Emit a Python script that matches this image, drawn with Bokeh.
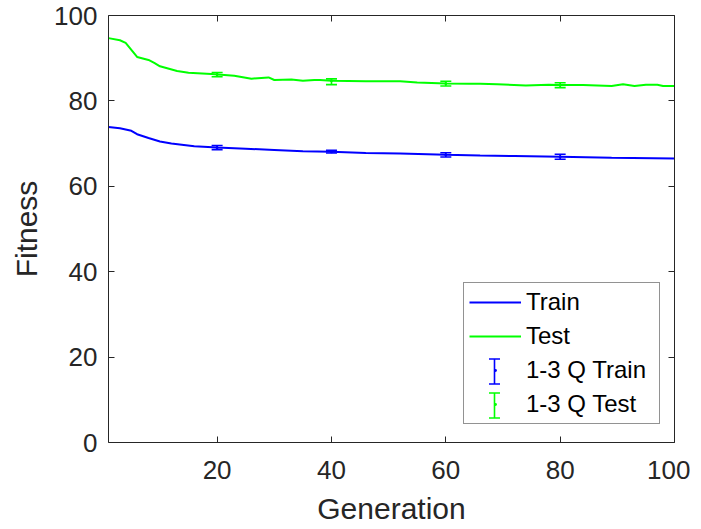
import numpy as np
from bokeh.plotting import figure
from bokeh.models import (Range1d, LinearAxis, FixedTicker, Legend, LegendItem,
                          ColumnDataSource, Whisker, TeeHead, CustomLabelingPolicy)
from bokeh.embed import file_html
from bokeh.resources import INLINE

# ---- data ----
train_gen = [1, 3, 5, 6, 8, 10, 12, 16, 20, 25, 30, 35, 40, 46, 52, 60, 66, 72, 80, 89, 100]
train_fit = [73.9, 73.6, 73.0, 72.2, 71.3, 70.5, 70.0, 69.4, 69.1, 68.8, 68.5, 68.2, 68.1,
             67.8, 67.7, 67.4, 67.2, 67.1, 66.9, 66.7, 66.5]

test_gen = [1, 3, 4, 6, 8, 9, 10, 13, 15, 19, 23, 26, 29, 30, 33, 35, 37, 38, 40, 46, 52,
            55, 60, 64, 66, 69, 74, 78, 80, 84, 89, 91, 93, 95, 97, 98, 100]
test_fit = [94.7, 94.2, 93.6, 90.3, 89.6, 88.9, 88.1, 87.0, 86.6, 86.3, 85.9, 85.2, 85.5,
            84.9, 85.0, 84.7, 84.9, 84.9, 84.7, 84.6, 84.6, 84.3, 84.1, 84.0, 84.0, 83.9,
            83.6, 83.8, 83.7, 83.7, 83.5, 83.9, 83.5, 83.8, 83.8, 83.5, 83.5]

q_gen = [20, 40, 60, 80]
train_mid = [69.1, 68.1, 67.4, 66.9]
train_q1 = [68.6, 67.8, 66.85, 66.35]
train_q3 = [69.55, 68.45, 67.85, 67.5]
test_mid = [86.2, 84.7, 84.1, 83.7]
test_q1 = [85.65, 83.8, 83.5, 83.1]
test_q3 = [86.65, 85.15, 84.6, 84.25]

x_ticks = [20, 40, 60, 80, 100]
y_ticks = [0, 20, 40, 60, 80, 100]
x_label = "Generation"
y_label = "Fitness"
legend_labels = ["Train", "Test", "1-3 Q Train", "1-3 Q Test"]

BLUE = "#0000ff"
GREEN = "#00ff00"
AX = "#262626"
FONT = "Liberation Sans"

p = figure(width=690, height=527, output_backend="svg", toolbar_location=None,
           x_range=Range1d(1, 100), y_range=Range1d(0, 100),
           min_border_left=108, min_border_right=16, min_border_top=15, min_border_bottom=85,
           x_axis_label=x_label, y_axis_label=y_label)
p.xgrid.visible = False
p.ygrid.visible = False
p.outline_line_color = None
p.background_fill_color = "white"
p.border_fill_color = "white"

def style_axis(ax, ticks, labels=True):
    ax.ticker = FixedTicker(ticks=ticks)
    ax.axis_line_color = AX
    ax.axis_line_width = 1
    ax.major_tick_line_color = AX
    ax.major_tick_in = 6
    ax.major_tick_out = 0
    ax.minor_tick_line_color = None
    ax.major_label_text_font = FONT
    ax.major_label_text_color = AX
    ax.axis_label_text_font = FONT
    ax.axis_label_text_color = AX
    ax.axis_label_text_font_style = "normal"
    if labels:
        ax.major_label_text_font_size = "26px"
        ax.axis_label_text_font_size = "30px"
    else:
        ax.major_label_text_font_size = "0px"
        ax.major_label_standoff = 0
        ax.major_label_policy = CustomLabelingPolicy(code="return []")

style_axis(p.xaxis[0], x_ticks)
style_axis(p.yaxis[0], y_ticks)
p.xaxis[0].major_label_standoff = 18
p.xaxis[0].axis_label_standoff = 10
p.yaxis[0].major_label_standoff = 11
p.yaxis[0].axis_label_standoff = 8

top_ax = LinearAxis()
style_axis(top_ax, x_ticks, labels=False)
p.add_layout(top_ax, "above")
right_ax = LinearAxis()
style_axis(right_ax, y_ticks, labels=False)
p.add_layout(right_ax, "right")

r_train = p.line(train_gen, train_fit, line_color=BLUE, line_width=2)
r_test = p.line(test_gen, test_fit, line_color=GREEN, line_width=2)

def errorbars(mid, q1, q3, color):
    p.segment(x0=q_gen, y0=q1, x1=q_gen, y1=q3, line_color=color, line_width=1.6)
    p.scatter(x=q_gen, y=q1, marker="dash", size=11, line_color=color, line_width=1.6)
    p.scatter(x=q_gen, y=q3, marker="dash", size=11, line_color=color, line_width=1.6)
    rd = p.scatter(x=q_gen, y=mid, marker="dot", size=12, line_color=color,
                   fill_color=color)
    return rd

rd_train = errorbars(train_mid, train_q1, train_q3, BLUE)
rd_test = errorbars(test_mid, test_q1, test_q3, GREEN)

# legend layout parameters (screen px)
LEG_X, LEG_Y = 355, 18
PAD, SPACING, ROW_H, GLYPH_W = 5, 6, 28, 52

legend = Legend(items=[
    LegendItem(label=legend_labels[0], renderers=[r_train]),
    LegendItem(label=legend_labels[1], renderers=[r_test]),
    LegendItem(label=legend_labels[2], renderers=[rd_train]),
    LegendItem(label=legend_labels[3], renderers=[rd_test]),
], location=(LEG_X, LEG_Y))
legend.label_text_font = FONT
legend.label_text_font_size = "24px"
legend.label_text_color = "black"
legend.glyph_width = GLYPH_W
legend.glyph_height = ROW_H
legend.label_height = ROW_H
legend.label_width = 128
legend.label_standoff = 5
legend.spacing = SPACING
legend.padding = PAD
legend.margin = 0
legend.border_line_color = AX
legend.border_line_width = 1
legend.background_fill_alpha = 0
p.add_layout(legend)

# error-bar symbols inside the legend (screen units relative to the plot frame)
n_items = 4
leg_h = 2 * PAD + n_items * ROW_H + (n_items - 1) * SPACING
glyph_cx = LEG_X + PAD + GLYPH_W / 2
for k, color in [(2, BLUE), (3, GREEN)]:
    cy = LEG_Y + leg_h - PAD - k * (ROW_H + SPACING) - ROW_H / 2
    src = ColumnDataSource(dict(base=[glyph_cx], lower=[cy - 12.5], upper=[cy + 12.5]))
    w = Whisker(base="base", lower="lower", upper="upper", source=src, dimension="height",
                base_units="screen", lower_units="screen", upper_units="screen",
                line_color=color, line_width=1.6,
                upper_head=TeeHead(size=11, line_color=color, line_width=1.6),
                lower_head=TeeHead(size=11, line_color=color, line_width=1.6))
    p.add_layout(w)

open("out.html", "w").write(file_html(p, INLINE))
